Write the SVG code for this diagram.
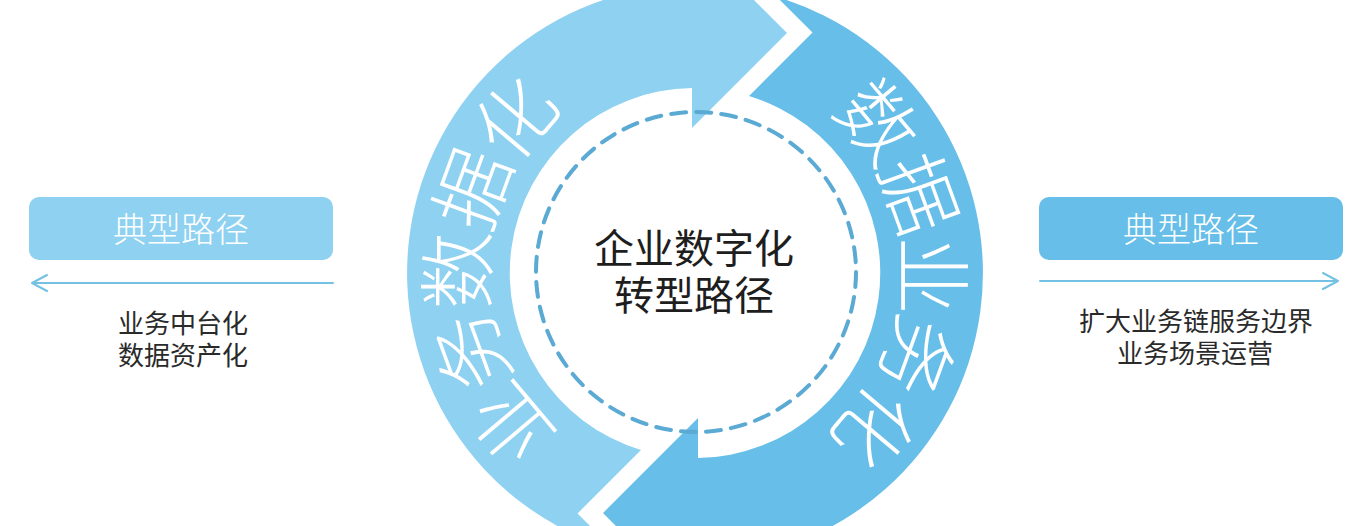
<svg xmlns="http://www.w3.org/2000/svg" xmlns:xlink="http://www.w3.org/1999/xlink" width="1368" height="526" viewBox="0 0 1368 526">
<style>
.cjk{font-family:"Noto Sans CJK SC","Noto Sans CJK JP",sans-serif;}
.ring{font-size:78px;fill:#ffffff;font-weight:300;}
.center{font-size:40px;fill:#1e1e1e;text-anchor:middle;}
.box{font-size:34px;fill:#ffffff;text-anchor:middle;font-weight:300;}
.small{font-size:26px;fill:#2a2a2a;text-anchor:middle;}
.line{fill:none;stroke:#74c1e3;stroke-width:2;stroke-linecap:round;stroke-linejoin:round;}
</style>
<defs>
<path id="arrowShape" d="M613.2,549.1 A288,288 0 0 1 692,-15 L692,-62 L787,33 L692,128 L692,88 A185,185 0 0 0 641,450 L577.5,513.5 Z"/>
<path id="leftArc" d="M695,481.4 A208.4,208.4 0 0 1 695,64.6" fill="none"/>
<path id="rightArc" d="M695,64.6 A208.4,208.4 0 0 1 695,481.4" fill="none"/>
</defs>
<rect width="1368" height="526" fill="#ffffff"/>
<g id="cycle">
<use id="arrow-business-data" xlink:href="#arrowShape" href="#arrowShape" fill="#8fd1f1"/>
<use id="arrow-data-business" xlink:href="#arrowShape" href="#arrowShape" fill="#67bee8" transform="rotate(180 695 273)"/>
<circle id="dashed-ring" cx="696" cy="272" r="160" fill="none" stroke="#5aaad3" stroke-width="4" stroke-dasharray="15 10.13" stroke-linecap="round"/>
<text class="cjk ring" letter-spacing="-5"><textPath xlink:href="#leftArc" href="#leftArc" startOffset="50%" text-anchor="middle">业务数据化</textPath></text>
<text class="cjk ring" letter-spacing="-5"><textPath xlink:href="#rightArc" href="#rightArc" startOffset="50%" text-anchor="middle">数据业务化</textPath></text>
</g>
<g id="center-node">
<text class="cjk center" x="694" y="263">企业数字化</text>
<text class="cjk center" x="694" y="310">转型路径</text>
</g>
<g id="left-node">
<rect x="29" y="197" width="304" height="63" rx="10" fill="#8fd1f1"/>
<text class="cjk box" x="181" y="242">典型路径</text>
<text class="cjk small" x="183" y="333">业务中台化</text>
<text class="cjk small" x="183" y="365">数据资产化</text>
</g>
<g id="right-node">
<rect x="1039" y="197" width="304" height="63" rx="10" fill="#67bee8"/>
<text class="cjk box" x="1191" y="242">典型路径</text>
<text class="cjk small" x="1196" y="331">扩大业务链服务边界</text>
<text class="cjk small" x="1195" y="363">业务场景运营</text>
</g>
<g id="connectors">
<path class="line" d="M333,283 L32,283 M47,275 L32,283 L47,291"/>
<path class="line" d="M1040,281 L1338,281 M1323,273 L1338,281 L1323,289"/>
</g>
</svg>
